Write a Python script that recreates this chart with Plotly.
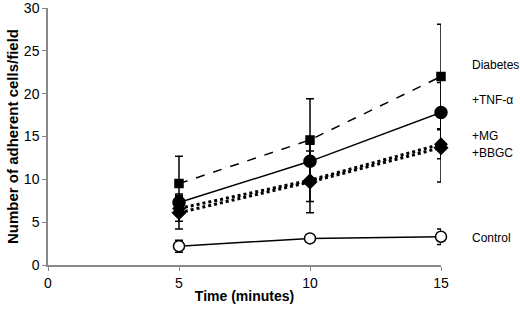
import plotly.graph_objects as go

time = [5, 10, 15]
diabetes = [9.5, 14.6, 22.0]
diabetes_err = [3.2, 4.8, 6.1]
tnf = [7.3, 12.1, 17.8]
tnf_err = [1.0, 2.0, 3.5]
mg = [6.6, 9.9, 14.1]
mg_err = [1.5, 2.5, 1.7]
bbgc = [6.1, 9.7, 13.7]
bbgc_err = [1.9, 3.6, 4.0]
control = [2.2, 3.1, 3.3]
control_err = [0.7, 0.3, 0.9]

labels = ["Diabetes", "+TNF-α", "+MG", "+BBGC", "Control"]
label_y = [23.4, 19.3, 15.1, 13.1, 3.1]

fig = go.Figure()

def add(y, err, dash, symbol, size, fill="black", width=1.5):
    fig.add_trace(go.Scatter(
        x=time, y=y, mode="lines+markers",
        line=dict(color="black", width=width, dash=dash),
        marker=dict(symbol=symbol, size=size, color=fill, line=dict(color="black", width=1.5)),
        error_y=dict(type="data", array=err, visible=True, color="black", thickness=1.5, width=4),
        showlegend=False, cliponaxis=False,
    ))

add(diabetes, diabetes_err, "dash", "square", 8)
add(mg, mg_err, "dot", "diamond", 9, width=3)
add(bbgc, bbgc_err, "dot", "diamond", 10, width=3)
add(tnf, tnf_err, "solid", "circle", 12)
add(control, control_err, "solid", "circle", 11, fill="white")

for t, yv in zip(labels, label_y):
    fig.add_annotation(x=1.074, xref="paper", y=yv, yref="y", text=t, showarrow=False,
                       xanchor="left", yanchor="middle",
                       font=dict(family="Liberation Sans, Arial", size=12, color="black"))

fig.update_layout(
    width=520, height=309,
    margin=dict(l=48, r=79, t=8, b=44),
    paper_bgcolor="white", plot_bgcolor="white",
    font=dict(family="Liberation Sans, Arial", size=14, color="black"),
    xaxis=dict(range=[0, 15], tickvals=[0, 5, 10, 15], showgrid=False, zeroline=False,
               showline=True, linecolor="#888888", linewidth=1.5, ticks="outside",
               tickcolor="#888888", ticklen=4, automargin=False,
               title=dict(text="<b>Time (minutes)</b>", font=dict(size=14), standoff=2)),
    yaxis=dict(range=[0, 30], tickvals=[0, 5, 10, 15, 20, 25, 30], showgrid=False, zeroline=False,
               showline=True, linecolor="#888888", linewidth=1.5, ticks="outside",
               tickcolor="#888888", ticklen=4, automargin=False, ticklabeloverflow="allow",
               title=dict(text="<b>Number of adherent cells/field</b>", font=dict(size=15), standoff=2)),
)

fig.write_html("out.html", config={"displayModeBar": False},
               post_script="document.body.style.margin='0';document.body.style.overflow='hidden';")
